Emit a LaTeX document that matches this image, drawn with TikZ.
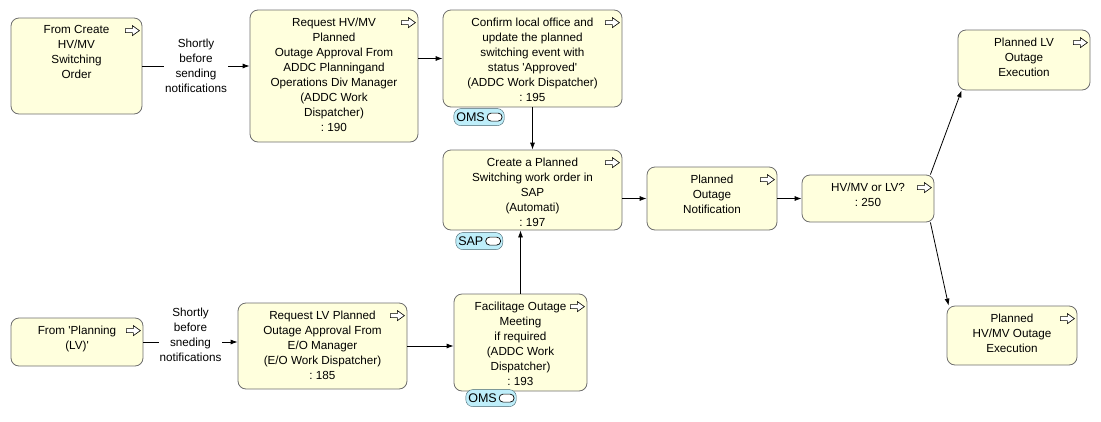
\documentclass[tikz,border=0pt]{standalone}
\usepackage{fontspec}
\setmainfont{Liberation Sans}
\usetikzlibrary{positioning,arrows.meta}
\frenchspacing
\definecolor{boxfill}{RGB}{255,255,221}
\definecolor{boxline}{RGB}{110,110,110}
\definecolor{tagfill}{RGB}{190,238,250}
\definecolor{tagline}{RGB}{70,100,110}
\tikzset{
  actbox/.style={draw=boxline, fill=boxfill, rounded corners=8pt, line width=0.8pt, inner sep=0pt},
  boxtext/.style={align=center, inner sep=0pt, font=\fontsize{11.7}{15}\selectfont},
  edgetext/.style={fill=white, align=center, inner sep=1pt, font=\fontsize{11.7}{15}\selectfont},
  flow/.style={-{Latex[length=7pt,width=5pt]}, line width=0.8pt},
  tagbox/.style={draw=tagline, fill=tagfill, rounded corners=7pt, minimum height=17pt, inner sep=2.5pt, font=\fontsize{12.5}{14}\selectfont},
  tagpill/.style={draw=black, fill=white, rounded corners=4pt, minimum width=15pt, minimum height=8pt, inner sep=0pt, line width=0.7pt},
  goicon/.pic={\draw[fill=white, line width=0.6pt] (-7pt,-2pt) -- (0pt,-2pt) -- (0pt,-5pt) -- (7pt,0pt) -- (0pt,5pt) -- (0pt,2pt) -- (-7pt,2pt) -- cycle;}
}
\begin{document}
\begin{tikzpicture}[x=1pt, y=-1pt]
    \useasboundingbox (0,0) rectangle (1101,421);

    \node[actbox, minimum width=131pt, minimum height=96pt] (fromhv) at (76.5,66) {};
    \node[boxtext, below=8pt of fromhv.north] (fromhvtext) {From Create\\HV/MV\\Switching\\Order};
    \pic at ([xshift=-10pt,yshift=-13pt]fromhv.north east) {goicon};

    \node[actbox, minimum width=168pt, minimum height=132pt] (reqhv) at (334,76) {};
    \node[boxtext, below=8pt of reqhv.north] (reqhvtext) {Request HV/MV\\Planned\\Outage Approval From\\ADDC Planningand\\Operations Div Manager\\(ADDC Work\\Dispatcher)\\: 190};
    \pic at ([xshift=-10pt,yshift=-13pt]reqhv.north east) {goicon};

    \node[actbox, minimum width=179pt, minimum height=97pt] (confirm) at (532.5,58.5) {};
    \node[boxtext, below=8pt of confirm.north] (confirmtext) {Confirm local office and\\update the planned\\switching event with\\status \textquotesingle Approved\textquotesingle\\(ADDC Work Dispatcher)\\: 195};
    \pic at ([xshift=-10pt,yshift=-13pt]confirm.north east) {goicon};
    \node[tagbox, anchor=north west] (confirmoms) at ([xshift=11pt,yshift=-1pt]confirm.south west) {OMS\rule{17pt}{0pt}};
    \node[tagpill, left=2pt of confirmoms.east] (confirmomspill) {};

    \node[actbox, minimum width=179pt, minimum height=80pt] (create) at (532.5,190) {};
    \node[boxtext, below=8pt of create.north] (createtext) {Create a Planned\\Switching work order in\\SAP\\(Automati)\\: 197};
    \pic at ([xshift=-10pt,yshift=-13pt]create.north east) {goicon};
    \node[tagbox, anchor=north west] (createsap) at ([xshift=13pt,yshift=-2pt]create.south west) {SAP\rule{17pt}{0pt}};
    \node[tagpill, left=2pt of createsap.east] (createsappill) {};

    \node[actbox, minimum width=130pt, minimum height=63pt] (outage) at (712,198.5) {};
    \node[boxtext, below=8pt of outage.north] (outagetext) {Planned\\Outage\\Notification};
    \pic at ([xshift=-10pt,yshift=-13pt]outage.north east) {goicon};

    \node[actbox, minimum width=132pt, minimum height=47pt] (hvmv) at (868,198.5) {};
    \node[boxtext, below=8pt of hvmv.north] (hvmvtext) {HV/MV or LV?\\: 250};
    \pic at ([xshift=-10pt,yshift=-13pt]hvmv.north east) {goicon};

    \node[actbox, minimum width=132pt, minimum height=60pt] (lvexec) at (1024,60) {};
    \node[boxtext, below=8pt of lvexec.north] (lvexectext) {Planned LV\\Outage\\Execution};
    \pic at ([xshift=-10pt,yshift=-13pt]lvexec.north east) {goicon};

    \node[actbox, minimum width=130pt, minimum height=59pt] (hvexec) at (1012,335.5) {};
    \node[boxtext, below=8pt of hvexec.north] (hvexectext) {Planned\\HV/MV Outage\\Execution};
    \pic at ([xshift=-10pt,yshift=-13pt]hvexec.north east) {goicon};

    \node[actbox, minimum width=132pt, minimum height=48pt] (fromlv) at (77,342) {};
    \node[boxtext, below=8pt of fromlv.north] (fromlvtext) {From \textquotesingle Planning\\(LV)\textquotesingle};
    \pic at ([xshift=-10pt,yshift=-13pt]fromlv.north east) {goicon};

    \node[actbox, minimum width=169pt, minimum height=86pt] (reqlv) at (322.5,346) {};
    \node[boxtext, below=8pt of reqlv.north] (reqlvtext) {Request LV Planned\\Outage Approval From\\E/O Manager\\(E/O Work Dispatcher)\\: 185};
    \pic at ([xshift=-10pt,yshift=-13pt]reqlv.north east) {goicon};

    \node[actbox, minimum width=133pt, minimum height=97pt] (facil) at (520.5,342.5) {};
    \node[boxtext, below=8pt of facil.north] (faciltext) {Facilitage Outage\\Meeting\\if required\\(ADDC Work\\Dispatcher)\\: 193};
    \pic at ([xshift=-10pt,yshift=-13pt]facil.north east) {goicon};
    \node[tagbox, anchor=north west] (faciloms) at ([xshift=12pt,yshift=2pt]facil.south west) {OMS\rule{17pt}{0pt}};
    \node[tagpill, left=2pt of faciloms.east] (facilomspill) {};

    \draw[flow] (fromhv) -- (fromhv -| reqhv.west) node[edgetext, midway] (fromhvlabel) {Shortly\\before\\sending\\notifications};
    \draw[flow] (reqhv.east |- confirm) -- (confirm);
    \draw[flow] (confirm) -- (create);
    \draw[flow] (create.east |- outage) -- (outage);
    \draw[flow] (outage) -- (hvmv);
    \draw[flow] ([xshift=-4pt]hvmv.north east) -- ([xshift=4pt]lvexec.south west);
    \draw[flow] ([xshift=-4pt]hvmv.south east) -- ([xshift=2pt]hvexec.north west);
    \draw[flow] (fromlv) -- (fromlv -| reqlv.west) node[edgetext, midway, yshift=7pt] (fromlvlabel) {Shortly\\before\\sneding\\notifications};
    \draw[flow] (reqlv) -- (reqlv -| facil.west);
    \draw[flow] (facil) -- (facil |- create.south);
\end{tikzpicture}
\end{document}
